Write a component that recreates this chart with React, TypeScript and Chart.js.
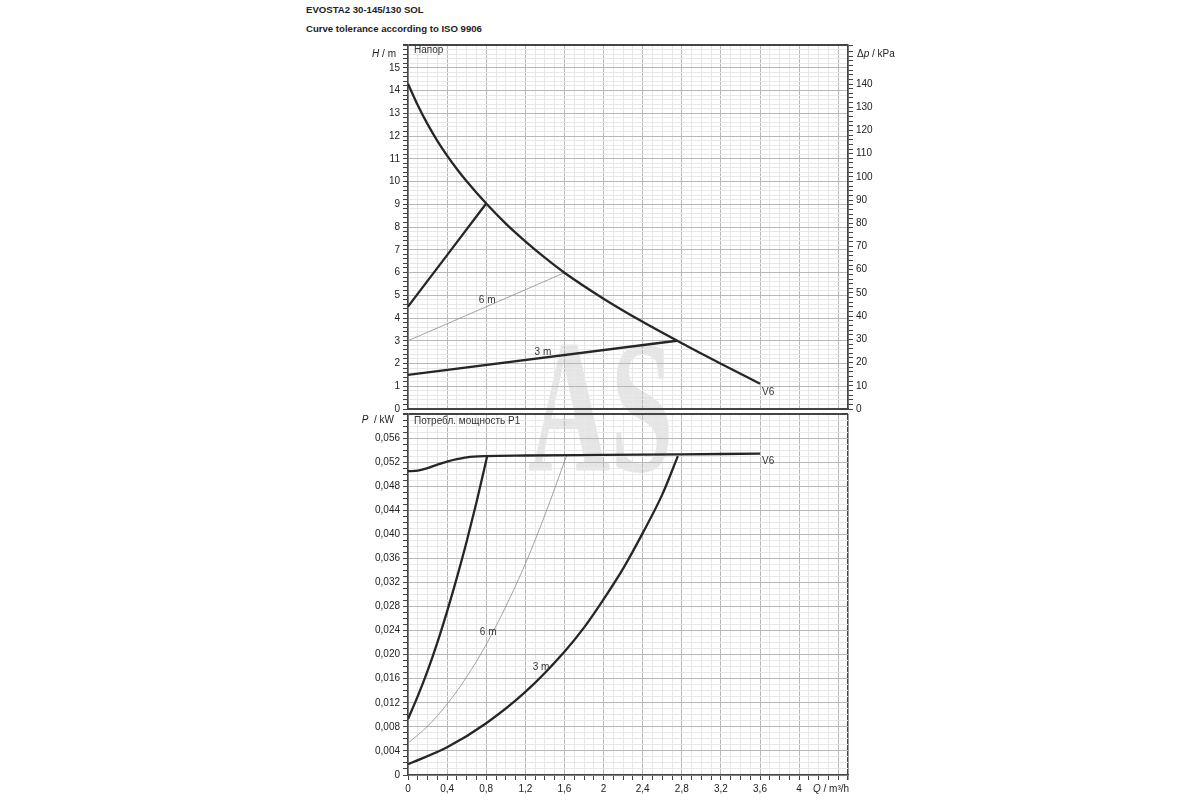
import React, { useEffect, useRef } from 'react';
import { Chart, registerables } from 'chart.js';

Chart.register(...registerables);

// flow Q, m³/h (shared x axis)
const qMax = 4.5;

// upper diagram: head H, m  (right axis Δp in kPa)
const hMax = 16;
const kpaPerM = 9.8;
const headV6Q = [0, 0.1, 0.2, 0.3, 0.4, 0.5, 0.6, 0.8, 1.0, 1.2, 1.4, 1.6, 2.0, 2.4, 2.8, 3.2, 3.6];
const headV6 = [14.3, 13.35, 12.52, 11.79, 11.14, 10.55, 10.01, 9.03, 8.15, 7.37, 6.65, 5.99, 4.85, 3.83, 2.89, 1.99, 1.11];
const head9mQ = [0, 0.8];
const head9m = [4.5, 9.03];
const head6mQ = [0, 1.6];
const head6m = [3.0, 5.99];
const head3mQ = [0, 2.75];
const head3m = [1.5, 3.0];

// lower diagram: power input P1, kW
const pMax = 0.06;
const powerV6Q = [0, 0.1, 0.2, 0.3, 0.4, 0.5, 0.6, 0.8, 1.2, 2.0, 2.8, 3.6];
const powerV6 = [0.0505, 0.0506, 0.051, 0.0516, 0.0521, 0.0525, 0.0528, 0.053, 0.0531, 0.0532, 0.0533, 0.0534];
const power9mQ = [0, 0.1, 0.2, 0.3, 0.4, 0.5, 0.6, 0.7, 0.81];
const power9m = [0.0093, 0.0131, 0.0173, 0.022, 0.0272, 0.0328, 0.0388, 0.0453, 0.053];
const power6mQ = [0, 0.2, 0.4, 0.6, 0.8, 1.0, 1.2, 1.4, 1.62];
const power6m = [0.0053, 0.0081, 0.0118, 0.0163, 0.0217, 0.028, 0.0351, 0.0432, 0.053];
const power3mQ = [0, 0.4, 0.8, 1.2, 1.6, 1.8, 2.0, 2.2, 2.4, 2.6, 2.76];
const power3m = [0.0018, 0.0046, 0.0086, 0.0138, 0.0205, 0.0245, 0.0292, 0.0343, 0.0402, 0.0466, 0.053];

// curve captions
const headNotes = [
  { text: '6 m', q: 0.81, v: 4.8, align: 'center' },
  { text: '3 m', q: 1.38, v: 2.5, align: 'center' },
  { text: 'V6', q: 3.62, v: 0.75, align: 'left' },
];
const powerNotes = [
  { text: '6 m', q: 0.82, v: 0.0237, align: 'center' },
  { text: '3 m', q: 1.36, v: 0.0179, align: 'center' },
  { text: 'V6', q: 3.62, v: 0.0522, align: 'left' },
];

const FONT = '"Liberation Sans", Arial, sans-serif';
const DARK = '#444';
const MAJOR = '#b8b8b8';
const MINOR = '#e8e8e8';

const onStep = (v: number, step: number) => Math.abs(v / step - Math.round(v / step)) < 1e-6;
const comma = (s: string) => s.replace('.', ',');
const pts = (xs: number[], ys: number[]) => xs.map((x, i) => ({ x, y: ys[i] }));

const thick = { borderColor: '#262626', borderWidth: 2.3, pointRadius: 0, cubicInterpolationMode: 'monotone' as const };
const thin = { borderColor: '#8c8c8c', borderWidth: 0.8, pointRadius: 0, cubicInterpolationMode: 'monotone' as const };

const curveLabels = {
  id: 'curveLabels',
  afterDatasetsDraw(chart: any, _args: any, opts: any) {
    const { ctx, chartArea, scales } = chart;
    ctx.save();
    ctx.font = `10px ${FONT}`;
    ctx.fillStyle = '#333';
    ctx.textBaseline = 'middle';
    if (opts.corner) {
      ctx.textAlign = 'left';
      ctx.fillText(opts.corner, chartArea.left + 6, chartArea.top + opts.cornerDy);
    }
    (opts.notes || []).forEach((n: any) => {
      ctx.textAlign = n.align;
      ctx.fillText(n.text, scales.x.getPixelForValue(n.q), scales.y.getPixelForValue(n.v));
    });
    ctx.restore();
  },
};

const xGridColor = (c: any) => {
  const v = c.tick?.value ?? 0;
  if (Math.abs(v - qMax) < 1e-6) return DARK;
  return onStep(v, 0.4) ? MAJOR : MINOR;
};
const xGridWidth = (c: any) => (Math.abs((c.tick?.value ?? 0) - qMax) < 1e-6 ? 1.5 : 1);

const Label: React.FC<{ style: React.CSSProperties; children: React.ReactNode }> = ({ style, children }) => (
  <div style={{ position: 'absolute', whiteSpace: 'nowrap', fontFamily: FONT, fontSize: 10, color: '#222', lineHeight: '12px', ...style }}>
    {children}
  </div>
);

const App: React.FC = () => {
  const headRef = useRef<HTMLCanvasElement | null>(null);
  const powerRef = useRef<HTMLCanvasElement | null>(null);

  useEffect(() => {
    const headCtx = headRef.current?.getContext('2d');
    const powerCtx = powerRef.current?.getContext('2d');
    if (!headCtx || !powerCtx) return;

    const tickFont = { family: FONT, size: 10 };

    const headChart = new Chart(headCtx, {
      type: 'line',
      data: {
        datasets: [
          { ...thick, data: pts(headV6Q, headV6) },
          { ...thick, data: pts(head9mQ, head9m) },
          { ...thin, data: pts(head6mQ, head6m) },
          { ...thick, data: pts(head3mQ, head3m) },
        ],
      },
      options: {
        responsive: false,
        animation: false,
        layout: { padding: { top: 45, left: 0, right: 0, bottom: 0 } },
        plugins: {
          legend: { display: false },
          tooltip: { enabled: false },
          curveLabels: { corner: 'Напор', cornerDy: 5, notes: headNotes },
        } as any,
        scales: {
          x: {
            type: 'linear',
            min: 0,
            max: qMax,
            ticks: { stepSize: 0.1, display: false, autoSkip: false },
            grid: { color: xGridColor, lineWidth: xGridWidth, drawTicks: false },
            border: { color: DARK, width: 2 },
            afterFit: (s: any) => { s.height = 11; },
          },
          y: {
            type: 'linear',
            position: 'left',
            min: 0,
            max: hMax,
            ticks: {
              stepSize: 0.2,
              autoSkip: false,
              padding: 3,
              color: '#222',
              font: tickFont,
              callback: (v: any) => (onStep(v, 1) && v < hMax - 0.5 ? String(Math.round(v)) : ''),
            },
            grid: {
              color: (c: any) => {
                const v = c.tick?.value ?? 0;
                if (Math.abs(v - hMax) < 1e-6) return DARK;
                return onStep(v, 1) ? MAJOR : MINOR;
              },
              lineWidth: (c: any) => (Math.abs((c.tick?.value ?? 0) - hMax) < 1e-6 ? 2 : 1),
              tickColor: DARK,
              tickLength: 5,
            },
            border: { color: DARK, width: 1.5 },
            afterFit: (s: any) => { s.width = 408; },
          },
          kpa: {
            type: 'linear',
            position: 'right',
            min: 0,
            max: hMax * kpaPerM,
            ticks: {
              stepSize: 2,
              autoSkip: false,
              padding: 3,
              color: '#222',
              font: tickFont,
              callback: (v: any) => (onStep(v, 10) && v <= 140 ? String(Math.round(v)) : ''),
            },
            grid: { drawOnChartArea: false, tickColor: DARK, tickLength: 5 },
            border: { color: DARK, width: 1.5 },
            afterFit: (s: any) => { s.width = 352; },
          },
        } as any,
      },
      plugins: [curveLabels],
    });

    const powerChart = new Chart(powerCtx, {
      type: 'line',
      data: {
        datasets: [
          { ...thick, data: pts(powerV6Q, powerV6) },
          { ...thick, data: pts(power9mQ, power9m) },
          { ...thin, data: pts(power6mQ, power6m) },
          { ...thick, data: pts(power3mQ, power3m) },
        ],
      },
      options: {
        responsive: false,
        animation: false,
        layout: { padding: { top: 4, left: 0, right: 352, bottom: 0 } },
        plugins: {
          legend: { display: false },
          tooltip: { enabled: false },
          curveLabels: { corner: 'Потребл. мощность P1', cornerDy: 7, notes: powerNotes },
        } as any,
        scales: {
          x: {
            type: 'linear',
            min: 0,
            max: qMax,
            ticks: {
              stepSize: 0.1,
              autoSkip: false,
              maxRotation: 0,
              padding: 3,
              color: '#222',
              font: tickFont,
              callback: (v: any) => (onStep(v, 0.4) && v < 4.1 ? comma(String(+(+v).toFixed(1))) : ''),
            },
            grid: { color: xGridColor, lineWidth: xGridWidth, tickColor: DARK, tickLength: 5 },
            border: { color: DARK, width: 1.5 },
            afterFit: (s: any) => { s.height = 25; },
          },
          y: {
            type: 'linear',
            position: 'left',
            min: 0,
            max: pMax,
            ticks: {
              stepSize: 0.001,
              autoSkip: false,
              padding: 3,
              color: '#222',
              font: tickFont,
              callback: (v: any) => {
                if (!onStep(v, 0.004) || v > pMax - 0.002) return '';
                return v < 1e-9 ? '0' : comma((+v).toFixed(3));
              },
            },
            grid: {
              color: (c: any) => {
                const v = c.tick?.value ?? 0;
                if (Math.abs(v - pMax) < 1e-9) return DARK;
                return onStep(v, 0.004) ? MAJOR : MINOR;
              },
              lineWidth: (c: any) => (Math.abs((c.tick?.value ?? 0) - pMax) < 1e-9 ? 2 : 1),
              tickColor: DARK,
              tickLength: 5,
            },
            border: { color: DARK, width: 1.5 },
            afterFit: (s: any) => { s.width = 408; },
          },
        } as any,
      },
      plugins: [curveLabels],
    });

    return () => {
      headChart.destroy();
      powerChart.destroy();
    };
  }, []);

  return (
    <div style={{ position: 'absolute', left: 0, top: 0, width: 1200, height: 800, background: '#fff', overflow: 'hidden' }}>
      <Label style={{ left: 306, top: 4, fontWeight: 'bold', fontSize: 9.6 }}>EVOSTA2 30-145/130 SOL</Label>
      <Label style={{ left: 306, top: 23, fontWeight: 'bold', fontSize: 9.6 }}>Curve tolerance according to ISO 9906</Label>
      <div
        style={{
          position: 'absolute',
          left: 528,
          top: 312,
          fontFamily: '"Liberation Serif", "DejaVu Serif", serif',
          fontWeight: 'bold',
          fontSize: 190,
          lineHeight: 1,
          color: 'rgba(0,0,0,0.1)',
          transform: 'scaleX(0.6)',
          transformOrigin: 'left top',
          pointerEvents: 'none',
        }}
      >
        AS
      </div>
      <canvas ref={headRef} width={1200} height={420} style={{ position: 'absolute', left: 0, top: 0, width: 1200, height: 420 }} />
      <canvas ref={powerRef} width={1200} height={395} style={{ position: 'absolute', left: 0, top: 405, width: 1200, height: 395 }} />
      <Label style={{ right: 804, top: 48 }}><i>H</i> / m</Label>
      <Label style={{ right: 806, top: 414 }}><i>P</i>&nbsp; / kW</Label>
      <Label style={{ left: 857, top: 48 }}>Δ<i>p</i> / kPa</Label>
      <Label style={{ left: 813, top: 783 }}><i>Q</i> / m³/h</Label>
    </div>
  );
};

export default App;
